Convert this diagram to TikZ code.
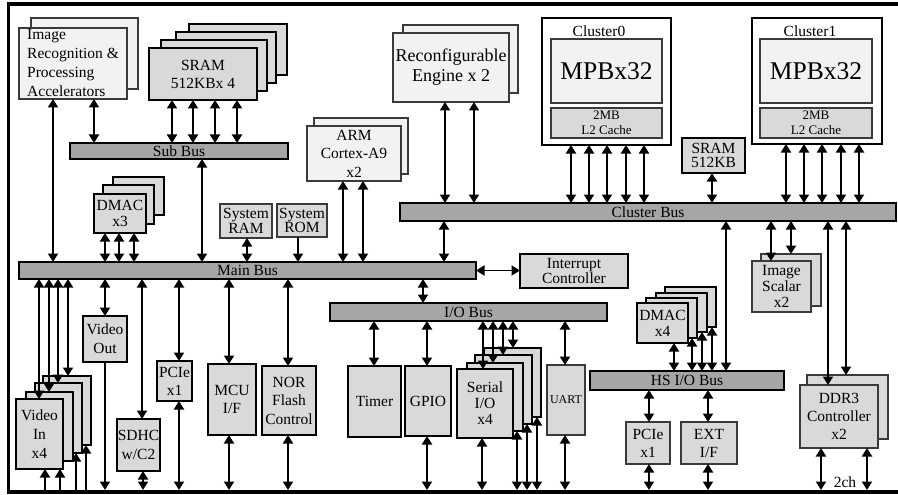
\documentclass[tikz,border=0pt]{standalone}
\usepackage{fontspec}
\setmainfont{Liberation Serif}
\usetikzlibrary{arrows.meta}
\definecolor{busg}{HTML}{A6A6A6}
\definecolor{lg}{HTML}{D9D9D9}
\definecolor{vlg}{HTML}{F2F2F2}
\definecolor{bd}{HTML}{3A3A3A}
\newcommand\fs[2]{\fontsize{#1}{#2}\selectfont}
\newcommand\bx[7]{\node[#1,minimum width={(#5-#3)*1pt},minimum height={(#6-#4)*1pt}] (#2) at ({(#3+#5)/2},{(#4+#6)/2}) {#7};}
\newcommand\vl[4]{\draw[#1] (#2,0 |- #3) -- (#2,0 |- #4);}
\tikzset{
  base/.style={inner sep=0pt, outer sep=0pt, align=center, font=\fs{15.5}{18}},
  thickbox/.style={base, draw=black, line width=2.5pt, fill=lg},
  thinbox/.style={base, draw=bd, line width=1.1pt, fill=lg},
  lightbox/.style={base, draw=bd, line width=1.1pt, fill=vlg},
  clbox/.style={base, draw=black, line width=1.6pt, fill=white},
  bus/.style={base, draw=black, line width=2.2pt, fill=busg},
  frame/.style={line width=3.5pt, draw=black},
  ar/.style={line width=1.9pt, -{Triangle[length=8.5pt,width=10pt]}},
  dar/.style={line width=1.9pt, {Triangle[length=8.5pt,width=10pt]}-{Triangle[length=8.5pt,width=10pt]}},
  lbl/.style={inner sep=0pt, font=\fs{15.5}{18}}
}
\begin{document}
\begin{tikzpicture}[x=1pt,y=-1pt]
\useasboundingbox (0,0) rectangle (898,495);
\coordinate (bot) at (0,490);
\draw[frame] (899,4) -- (8.5,4) -- (8.5,492) -- (899,492);

% ---- top left
\bx{lightbox}{ir2}{31}{18}{138}{89}{}
\bx{lightbox}{ir1}{19}{28}{127}{99}{}
\node[lbl, anchor=north west, align=left, font=\fs{15.5}{19}] (irt) at (27,29) {Image\\Recognition \&\\Processing\\Accelerators};

\bx{thickbox,line width=2pt}{s4}{189}{24}{287}{75}{}
\bx{thickbox,line width=2pt}{s3}{176}{32}{276}{83}{}
\bx{thickbox,line width=2pt}{s2}{161}{40}{267}{91}{}
\bx{thickbox}{s1}{149}{48}{257}{100}{SRAM\\512KBx 4}

\bx{bus}{subbus}{70}{143}{288}{159}{Sub Bus}

\bx{thickbox}{d3}{113}{177}{164}{215}{}
\bx{thickbox}{d2}{103}{185}{154}{224}{}
\bx{thickbox,font=\fs{15.5}{16}}{d1}{94}{194}{146}{233}{DMAC\\x3}

\bx{bus}{mainbus}{19}{262}{476}{279}{Main Bus}
\bx{thinbox,font=\fs{15.5}{14.5}}{sram}{220}{204}{272}{238}{System\\RAM}
\bx{thinbox,font=\fs{15.5}{14.5}}{srom}{277}{204}{327}{237}{System\\ROM}

\bx{lightbox}{arm2}{314}{118}{408}{174}{}
\bx{lightbox,font=\fs{15.5}{18.5}}{arm1}{307}{126}{401}{181}{ARM\\Cortex-A9\\x2}

\bx{lightbox}{re2}{403}{25}{518}{93}{}
\bx{lightbox,font=\fs{18}{20}}{re1}{393}{33}{509}{102}{Reconfigurable\\Engine x 2}

% ---- clusters
\bx{clbox}{c0}{542}{18}{671}{145}{}
\node[lbl, anchor=base] (c0l) at (599,37) {Cluster0};
\bx{lightbox,font=\fs{25.5}{28}}{mpb0}{551}{39}{662}{103}{MPBx32}
\bx{thinbox,font=\fs{13}{15}}{l20}{551}{108}{662}{138}{2MB\\L2 Cache}

\bx{clbox}{c1}{752}{18}{882}{144}{}
\node[lbl, anchor=base] (c1l) at (810,37) {Cluster1};
\bx{lightbox,font=\fs{25.5}{28}}{mpb1}{760}{39}{872}{103}{MPBx32}
\bx{thinbox,font=\fs{13}{15}}{l21}{760}{108}{872}{138}{2MB\\L2 Cache}

\bx{thickbox,font=\fs{15.5}{14.5}}{sr5}{682}{138}{745}{173}{SRAM\\512KB}

\bx{bus}{cbus}{400}{203}{896}{221}{Cluster Bus}

\bx{thickbox,font=\fs{15.5}{15}}{intc}{520}{254}{628}{288}{Interrupt\\Controller}
\bx{bus}{iobus}{330}{303}{607}{321}{I/O Bus}

\bx{thinbox}{is2}{761}{254}{821}{306}{}
\bx{thinbox,font=\fs{15.5}{16}}{is1}{752}{261}{811}{312}{Image\\Scalar\\x2}

% ---- HS side
\bx{thickbox}{e4}{665}{287}{716}{327}{}
\bx{thickbox}{e3}{656}{293}{707}{332}{}
\bx{thickbox}{e2}{646}{298}{697}{338}{}
\bx{thickbox,font=\fs{15.5}{16}}{e1}{637}{303}{688}{343}{DMAC\\x4}
\bx{bus}{hsbus}{590}{371}{784}{390}{HS I/O Bus}
\bx{thinbox}{ph}{626}{422}{670}{464}{PCIe\\x1}
\bx{thinbox}{ext}{681}{422}{737}{464}{EXT\\I/F}
\bx{thinbox}{dd2}{807}{375}{888}{439}{}
\bx{thinbox}{dd1}{800}{385}{878}{448}{DDR3\\Controller\\x2}
\node[lbl] (twoch) at (845,482) {2ch};

% ---- I/O bus devices
\bx{thickbox}{timer}{348}{366}{401}{437}{Timer}
\bx{thickbox}{gpio}{405}{366}{451}{436}{GPIO}
\bx{thickbox}{r4}{484}{348}{541}{417}{}
\bx{thickbox}{r3}{475}{355}{532}{424}{}
\bx{thickbox}{r2}{467}{363}{523}{431}{}
\bx{thickbox,font=\fs{15.5}{16}}{r1}{457}{369}{513}{438}{Serial\\I/O\\x4}
\bx{thinbox,font=\fs{12}{14}}{uart}{547}{365}{585}{435}{UART}

% ---- main bus devices
\bx{thickbox,font=\fs{15.5}{19}}{vo}{83}{316}{127}{362}{Video\\Out}
\bx{thickbox}{v4}{43}{376}{91}{445}{}
\bx{thickbox}{v3}{35}{383}{82}{453}{}
\bx{thickbox}{v2}{26}{392}{73}{461}{}
\bx{thickbox,font=\fs{15.5}{19}}{v1}{16}{399}{63}{469}{Video\\In\\x4}
\bx{thickbox,font=\fs{15.5}{19}}{sd}{117}{419}{160}{471}{SDHC\\w/C2}
\bx{thickbox}{pm}{157}{361}{192}{401}{PCIe\\x1}
\bx{thickbox}{mcu}{208}{364}{256}{435}{MCU\\I/F}
\bx{thickbox,font=\fs{15.5}{18.5}}{nor}{262}{366}{316}{435}{NOR\\Flash\\Control}

% ---- connectors: top left
\vl{dar}{94}{ir1.south}{subbus.north}
\vl{dar}{172}{s1.south}{subbus.north}
\vl{dar}{193}{s1.south}{subbus.north}
\vl{dar}{215}{s1.south}{subbus.north}
\vl{dar}{237}{s1.south}{subbus.north}
\vl{dar}{53}{ir1.south}{mainbus.north}
\vl{dar}{202}{subbus.south}{mainbus.north}
\vl{dar}{105}{d1.south}{mainbus.north}
\vl{dar}{119}{d1.south}{mainbus.north}
\vl{dar}{134}{d1.south}{mainbus.north}
\vl{dar}{247}{sram.south}{mainbus.north}
\vl{ar}{298}{srom.south}{mainbus.north}
\vl{dar}{343}{arm1.south}{mainbus.north}
\vl{dar}{363}{arm1.south}{mainbus.north}
\vl{dar}{445}{re1.south}{cbus.north}
\vl{dar}{474}{re1.south}{cbus.north}
\vl{dar}{444}{cbus.south}{mainbus.north}
\draw[dar] (mainbus.east) -- (mainbus.east -| intc.west);
\vl{dar}{423}{mainbus.south}{iobus.north}

% clusters
\foreach \x in {571,589,607,626,644} {\vl{dar}{\x}{c0.south}{cbus.north}}
\foreach \x in {786,804,822,841,859} {\vl{dar}{\x}{c1.south}{cbus.north}}
\vl{dar}{712}{sr5.south}{cbus.north}
\vl{dar}{771}{cbus.south}{is1.north}
\vl{dar}{791}{cbus.south}{is2.north}
\vl{dar}{726}{cbus.south}{hsbus.north}
\vl{dar}{828}{cbus.south}{dd1.north}
\vl{dar}{846}{cbus.south}{dd2.north}

% HS bus
\vl{dar}{674}{e1.south}{hsbus.north}
\vl{dar}{692}{e2.south}{hsbus.north}
\vl{dar}{702}{e3.south}{hsbus.north}
\vl{dar}{712}{e4.south}{hsbus.north}
\vl{dar}{649}{hsbus.south}{ph.north}
\vl{dar}{649}{ph.south}{bot}
\vl{dar}{708}{hsbus.south}{ext.north}
\vl{dar}{708}{ext.south}{bot}
\vl{dar}{821}{dd1.south}{bot}
\vl{dar}{867}{dd1.south}{bot}

% I/O bus
\vl{dar}{374}{iobus.south}{timer.north}
\vl{dar}{427}{iobus.south}{gpio.north}
\vl{dar}{427}{gpio.south}{bot}
\vl{dar}{483}{iobus.south}{r1.north}
\vl{dar}{493}{iobus.south}{r2.north}
\vl{dar}{503}{iobus.south}{r3.north}
\vl{dar}{513}{iobus.south}{r4.north}
\vl{dar}{482}{r1.south}{bot}
\vl{dar}{517}{r2.south}{bot}
\vl{dar}{527}{r3.south}{bot}
\vl{dar}{537}{r4.south}{bot}
\vl{dar}{565}{iobus.south}{uart.north}
\vl{dar}{565}{uart.south}{bot}

% main bus devices
\vl{dar}{105}{mainbus.south}{vo.north}
\vl{ar}{105}{vo.south}{bot}
\vl{dar}{39}{mainbus.south}{v1.north}
\vl{dar}{49}{mainbus.south}{v2.north}
\vl{dar}{58}{mainbus.south}{v3.north}
\vl{dar}{68}{mainbus.south}{v4.north}
\vl{ar}{45}{bot}{v1.south}
\vl{ar}{60}{bot}{v1.south}
\vl{ar}{76}{bot}{v3.south}
\vl{ar}{86}{bot}{v4.south}
\vl{dar}{142}{mainbus.south}{sd.north}
\vl{dar}{143}{sd.south}{bot}
\vl{dar}{179}{mainbus.south}{pm.north}
\vl{dar}{179}{pm.south}{bot}
\vl{dar}{229}{mainbus.south}{mcu.north}
\vl{dar}{229}{mcu.south}{bot}
\vl{dar}{288}{mainbus.south}{nor.north}
\vl{dar}{288}{nor.south}{bot}
\end{tikzpicture}
\end{document}
